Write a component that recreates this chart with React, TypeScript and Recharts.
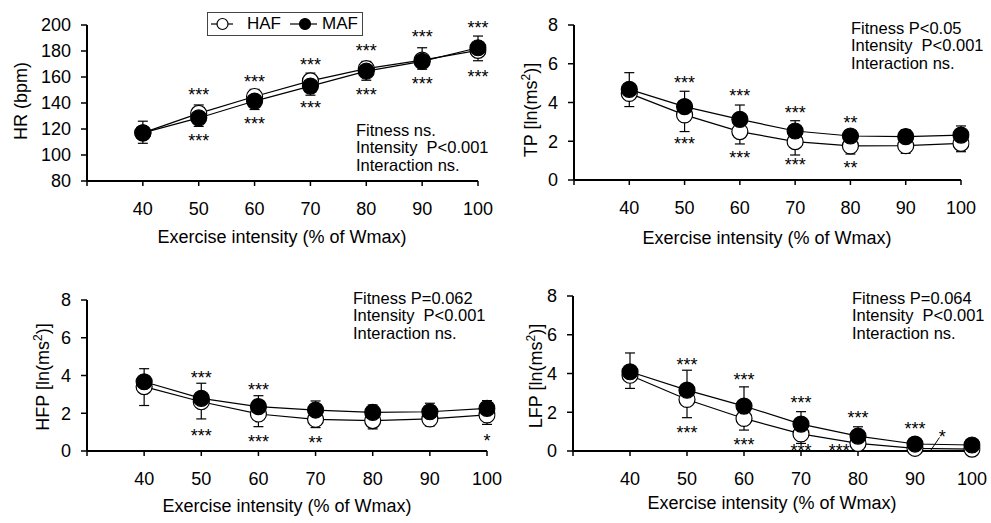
import React from 'react';
import { ComposedChart, Line, XAxis, YAxis, ErrorBar, ReferenceDot, ReferenceLine, Legend } from 'recharts';

const FONT = '"Liberation Sans", Arial, Helvetica, sans-serif';

// ---- categories / ticks ----
const INTENSITY = [40, 50, 60, 70, 80, 90, 100];
const X_TICKS = [30, 40, 50, 60, 70, 80, 90, 100];
const HR_TICKS = [80, 100, 120, 140, 160, 180, 200];
const LN_TICKS = [0, 2, 4, 6, 8];

// ---- HR (bpm) ----
const hrHAF = [117, 132, 145, 157, 166.5, 173, 180.5];
const hrMAF = [117, 128.5, 141.5, 153, 164.5, 172, 182.5];
const hrHAFsd = [8, 10, 10, 11, 9, 7, 8];
const hrMAFsd = [9, 10, 9, 10, 7.5, 10.5, 9];

// ---- TP ----
const tpHAF = [4.47, 3.36, 2.5, 1.98, 1.76, 1.77, 1.89];
const tpMAF = [4.68, 3.79, 3.13, 2.53, 2.27, 2.24, 2.32];
const tpHAFsd = [0.68, 0.86, 0.64, 0.69, 0.42, 0.39, 0.43];
const tpMAFsd = [0.86, 0.79, 0.74, 0.53, 0.31, 0.36, 0.47];

// ---- HFP ----
const hfpHAF = [3.41, 2.61, 1.96, 1.68, 1.61, 1.7, 1.91];
const hfpMAF = [3.67, 2.79, 2.35, 2.17, 2.05, 2.08, 2.26];
const hfpHAFsd = [1.0, 0.91, 0.67, 0.44, 0.44, 0.37, 0.5];
const hfpMAFsd = [0.69, 0.8, 0.58, 0.48, 0.39, 0.45, 0.41];

// ---- LFP ----
const lfpHAF = [3.91, 2.66, 1.68, 0.88, 0.39, 0.14, 0.1];
const lfpMAF = [4.09, 3.14, 2.32, 1.39, 0.77, 0.36, 0.31];
const lfpHAFsd = [0.68, 0.94, 0.6, 0.49, 0.3, 0.12, 0.08];
const lfpMAFsd = [0.97, 1.03, 0.99, 0.64, 0.48, 0.15, 0.1];

// ---- significance marks (x, y = glyph centre) ----
type Star = { x: number; y: number; t: string };
const hrStars: Star[] = [
  { x: 50, y: 149.5, t: '***' }, { x: 50, y: 114, t: '***' },
  { x: 60, y: 159, t: '***' }, { x: 60, y: 127, t: '***' },
  { x: 70, y: 172, t: '***' }, { x: 70, y: 139, t: '***' },
  { x: 80, y: 183, t: '***' }, { x: 80, y: 149, t: '***' },
  { x: 90, y: 193.5, t: '***' }, { x: 90, y: 157.5, t: '***' },
  { x: 100, y: 201, t: '***' }, { x: 100, y: 163, t: '***' },
];
const tpStars: Star[] = [
  { x: 50, y: 5.2, t: '***' }, { x: 50, y: 2.05, t: '***' },
  { x: 60, y: 4.54, t: '***' }, { x: 60, y: 1.36, t: '***' },
  { x: 70, y: 3.68, t: '***' }, { x: 70, y: 0.98, t: '***' },
  { x: 80, y: 3.17, t: '**' }, { x: 80, y: 0.84, t: '**' },
];
const hfpStars: Star[] = [
  { x: 50, y: 4.06, t: '***' }, { x: 50, y: 1.02, t: '***' },
  { x: 60, y: 3.45, t: '***' }, { x: 60, y: 0.71, t: '***' },
  { x: 70, y: 0.62, t: '**' },
  { x: 100, y: 0.76, t: '*' },
];
const lfpStars: Star[] = [
  { x: 50, y: 4.64, t: '***' }, { x: 50, y: 1.12, t: '***' },
  { x: 60, y: 3.86, t: '***' }, { x: 60, y: 0.52, t: '***' },
  { x: 70, y: 2.66, t: '***' }, { x: 70, y: 0.22, t: '***' },
  { x: 80, y: 1.89, t: '***' }, { x: 76.7, y: 0.22, t: '***' },
  { x: 90, y: 1.32, t: '***' },
  { x: 94.8, y: 0.91, t: '*' },
];
const lfpPointer = [{ x: 92.8, y: 0.05 }, { x: 94.3, y: 0.7 }];

// ---- stats texts ----
const hrStats = ['Fitness ns.', 'Intensity  P<0.001', 'Interaction ns.'];
const tpStats = ['Fitness P<0.05', 'Intensity  P<0.001', 'Interaction ns.'];
const hfpStats = ['Fitness P=0.062', 'Intensity  P<0.001', 'Interaction ns.'];
const lfpStats = ['Fitness P=0.064', 'Intensity  P<0.001', 'Interaction ns.'];

const X_TITLE = 'Exercise intensity (% of Wmax)';

function build(haf: number[], maf: number[], hsd: number[], msd: number[]) {
  return INTENSITY.map((x, i) => ({
    x,
    haf: haf[i],
    maf: maf[i],
    hafErr: [hsd[i], 0],
    mafErr: [0, msd[i]],
  }));
}

const hrData = build(hrHAF, hrMAF, hrHAFsd, hrMAFsd);
const tpData = build(tpHAF, tpMAF, tpHAFsd, tpMAFsd);
const hfpData = build(hfpHAF, hfpMAF, hfpHAFsd, hfpMAFsd);
const lfpData = build(lfpHAF, lfpMAF, lfpHAFsd, lfpMAFsd);

const starShape = (t: string) => (p: any) => (
  <text x={p.cx} y={p.cy + 10} textAnchor="middle" fontSize={18} fill="#000" fontFamily={FONT}>
    {t}
  </text>
);

function LegendBox() {
  return (
    <svg width={156} height={24} style={{ display: 'block' }}>
      <rect x={0.5} y={0.5} width={155} height={23} fill="#fff" stroke="#444" strokeWidth={1} />
      <line x1={4} y1={12} x2={26} y2={12} stroke="#000" strokeWidth={1.2} />
      <circle cx={15.5} cy={12} r={5.5} fill="#fff" stroke="#000" strokeWidth={1.2} />
      <text x={40} y={16.5} fontSize={17} fontFamily={FONT} fill="#000">HAF</text>
      <line x1={83} y1={12} x2={110} y2={12} stroke="#000" strokeWidth={1.2} />
      <circle cx={98} cy={12} r={5.5} fill="#000" stroke="#000" strokeWidth={1.2} />
      <text x={115} y={16.5} fontSize={17} fontFamily={FONT} fill="#000">MAF</text>
    </svg>
  );
}

type PanelProps = {
  left: number; top: number; width: number; height: number;
  margin: { top: number; right: number; bottom: number; left: number };
  yDomain: [number, number]; yTicks: number[];
  data: any[]; stars: Star[];
  legend?: boolean;
  children?: React.ReactNode;
};

function Panel(props: PanelProps) {
  const { left, top, width, height, margin, yDomain, yTicks, data, stars, legend, children } = props;
  return (
    <div style={{ position: 'absolute', left, top, width, height }}>
      <ComposedChart width={width} height={height} data={data} margin={margin}>
        <XAxis
          dataKey="x" type="number" domain={[30, 100]} ticks={X_TICKS} interval={0}
          tickFormatter={(v: number) => (v === 30 ? '' : String(v))}
          axisLine={{ stroke: '#000', strokeWidth: 2 }}
          tickLine={{ stroke: '#000', strokeWidth: 1.5 }}
          tickSize={5} tickMargin={16} height={30}
          tick={{ fill: '#000', fontSize: 18, fontFamily: FONT }}
          allowDataOverflow
        />
        <YAxis
          type="number" domain={yDomain} ticks={yTicks} interval={0}
          axisLine={{ stroke: '#000', strokeWidth: 2 }}
          tickLine={{ stroke: '#000', strokeWidth: 1.5 }}
          tickSize={6} tickMargin={10} width={60}
          tick={{ fill: '#000', fontSize: 18, fontFamily: FONT }}
          allowDataOverflow
        />
        <Line
          dataKey="haf" type="linear" stroke="#000" strokeWidth={1.2}
          dot={{ r: 8, fill: '#fff', stroke: '#000', strokeWidth: 1.2, clipDot: false } as any}
          activeDot={false} isAnimationActive={false}
        >
          <ErrorBar dataKey="hafErr" direction="y" width={5} stroke="#000" strokeWidth={1.2} />
        </Line>
        <Line
          dataKey="maf" type="linear" stroke="#000" strokeWidth={1.2}
          dot={{ r: 8, fill: '#000', stroke: '#000', strokeWidth: 1.2, clipDot: false } as any}
          activeDot={false} isAnimationActive={false}
        >
          <ErrorBar dataKey="mafErr" direction="y" width={5} stroke="#000" strokeWidth={1.2} />
        </Line>
        {stars.map((s, i) => (
          <ReferenceDot key={'s' + i} x={s.x} y={s.y} r={0} ifOverflow="visible" shape={starShape(s.t)} />
        ))}
        {children}
        {legend ? (
          <Legend
            layout="horizontal" verticalAlign="middle" align="center"
            wrapperStyle={{ left: 207, top: 12, width: 156, height: 24 }}
            content={() => <LegendBox />}
          />
        ) : null}
      </ComposedChart>
    </div>
  );
}

function Stats({ x, y, lines }: { x: number; y: number; lines: string[] }) {
  return (
    <g>
      {lines.map((l, i) => (
        <text key={i} x={x} y={y + i * 17.6} fontSize={16.5} fontFamily={FONT} fill="#000" style={{ whiteSpace: 'pre' }}>
          {l}
        </text>
      ))}
    </g>
  );
}

function YTitle({ cx, cy, main, sup }: { cx: number; cy: number; main: string; sup?: boolean }) {
  return (
    <text transform={`translate(${cx},${cy}) rotate(-90)`} textAnchor="middle" dy="0.35em" fontSize={18} fontFamily={FONT} fill="#000">
      {sup ? (
        <>
          <tspan>{main} [ln(ms</tspan>
          <tspan dy={-7} fontSize={12}>2</tspan>
          <tspan dy={7}>)]</tspan>
        </>
      ) : (
        main
      )}
    </text>
  );
}

function XTitle({ cx, y }: { cx: number; y: number }) {
  return (
    <text x={cx} y={y} textAnchor="middle" fontSize={18} fontFamily={FONT} fill="#000">
      {X_TITLE}
    </text>
  );
}

export default function App() {
  return (
    <div style={{ position: 'absolute', left: 0, top: 0, width: 991, height: 523, background: '#fff', fontFamily: FONT }}>
      <Panel left={0} top={0} width={495} height={260}
        margin={{ top: 25, right: 17, left: 27, bottom: 49 }}
        yDomain={[80, 200]} yTicks={HR_TICKS} data={hrData} stars={hrStars} legend />
      <Panel left={495} top={0} width={496} height={260}
        margin={{ top: 25, right: 30, left: 19, bottom: 50 }}
        yDomain={[0, 8]} yTicks={LN_TICKS} data={tpData} stars={tpStars} />
      <Panel left={0} top={260} width={520} height={263}
        margin={{ top: 40, right: 33, left: 27, bottom: 42 }}
        yDomain={[0, 8]} yTicks={LN_TICKS} data={hfpData} stars={hfpStars} />
      <Panel left={495} top={260} width={496} height={263}
        margin={{ top: 36, right: 19, left: 18, bottom: 42 }}
        yDomain={[0, 8]} yTicks={LN_TICKS} data={lfpData} stars={lfpStars}>
        <ReferenceLine segment={lfpPointer} stroke="#000" strokeWidth={1} ifOverflow="visible" />
      </Panel>
      <svg width={991} height={523} style={{ position: 'absolute', left: 0, top: 0, pointerEvents: 'none' }}>
        <YTitle cx={21} cy={101} main="HR (bpm)" />
        <YTitle cx={531} cy={110} main="TP" sup />
        <YTitle cx={43} cy={377} main="HFP" sup />
        <YTitle cx={536} cy={376} main="LFP" sup />
        <XTitle cx={282} y={243} />
        <XTitle cx={767} y={244} />
        <XTitle cx={287} y={512} />
        <XTitle cx={772} y={509} />
        <Stats x={356} y={135.7} lines={hrStats} />
        <Stats x={851} y={33.5} lines={tpStats} />
        <Stats x={353} y={303.5} lines={hfpStats} />
        <Stats x={852} y={303.5} lines={lfpStats} />
      </svg>
    </div>
  );
}
